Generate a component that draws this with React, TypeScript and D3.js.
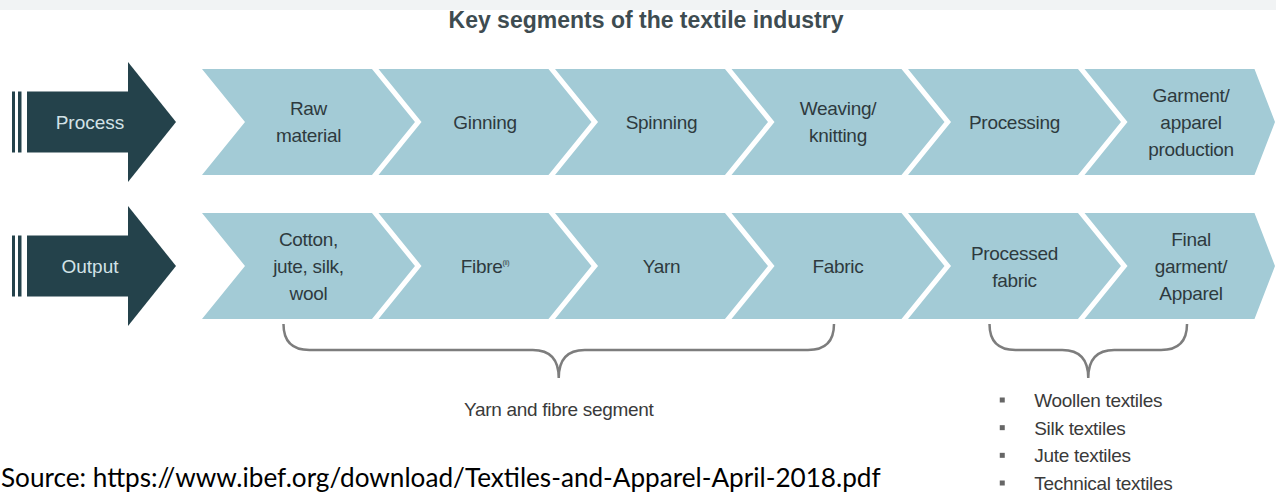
// Key segments of the textile industry - chevron flow diagram drawn with D3
import React, { useEffect, useRef } from 'react';
import * as d3 from 'd3';

const WIDTH = 1276;
const HEIGHT = 495;

const title = 'Key segments of the textile industry';
const rows = ['Process', 'Output'];
const processSteps = [
  ['Raw', 'material'],
  ['Ginning'],
  ['Spinning'],
  ['Weaving/', 'knitting'],
  ['Processing'],
  ['Garment/', 'apparel', 'production'],
];
const outputSteps = [
  ['Cotton,', 'jute, silk,', 'wool'],
  ['Fibre'],
  ['Yarn'],
  ['Fabric'],
  ['Processed', 'fabric'],
  ['Final', 'garment/', 'Apparel'],
];
const fibreNote = '(ii)';
const segmentFrom = [0, 4];
const segmentTo = [3, 5];
const segmentLabels = ['Yarn and fibre segment', ''];
const otherTextiles = ['Woollen textiles', 'Silk textiles', 'Jute textiles', 'Technical textiles'];
const source = 'Source: https://www.ibef.org/download/Textiles-and-Apparel-April-2018.pdf';

const FONT = '"Liberation Sans", Arial, sans-serif';

const App = () => {
  const svgRef = useRef<SVGSVGElement>(null);

  useEffect(() => {
    if (!svgRef.current) return;
    const svg = d3.select(svgRef.current);
    svg.selectAll('*').remove();

    const dark = '#24424b';
    const light = '#a3cbd6';
    const textDark = '#2e3a3e';

    // faint band at the very top
    svg.append('rect').attr('x', 0).attr('y', 0).attr('width', WIDTH).attr('height', 10).attr('fill', '#f1f3f4');

    svg.append('text')
      .attr('x', 646)
      .attr('y', 28)
      .attr('text-anchor', 'middle')
      .attr('font-family', FONT)
      .attr('font-weight', 'bold')
      .attr('font-size', 23)
      .attr('fill', '#3e4c51')
      .text(title);

    const cols = d3.range(processSteps.length);
    const x = d3.scaleBand<number>().domain(cols).range([202, 1254.5]).paddingInner(0.037);
    const y = d3.scaleBand<string>().domain(rows).range([69, 319]).paddingInner(0.264);
    const depth = 43;
    const bw = x.bandwidth();
    const colCenter = (i: number) => (x(i) || 0) + depth / 2 + bw / 2;
    const rowMid = (r: string) => (y(r) || 0) + y.bandwidth() / 2;

    const labelsByRow: Record<string, string[][]> = { Process: processSteps, Output: outputSteps };

    rows.forEach(row => {
      const m = rowMid(row);
      const g = svg.append('g');

      // left dark arrow with stripes
      g.append('rect').attr('x', 12).attr('y', m - 30.5).attr('width', 3).attr('height', 61).attr('fill', dark);
      g.append('rect').attr('x', 18).attr('y', m - 30.5).attr('width', 3.5).attr('height', 61).attr('fill', dark);
      g.append('rect').attr('x', 27).attr('y', m - 30.5).attr('width', 102).attr('height', 61).attr('fill', dark);
      g.append('path').attr('d', `M128,${m - 60}L176,${m}L128,${m + 60}Z`).attr('fill', dark);
      g.append('text')
        .attr('x', 90)
        .attr('y', m + 7)
        .attr('text-anchor', 'middle')
        .attr('font-family', FONT)
        .attr('font-size', 19)
        .attr('fill', '#d3e2e7')
        .text(row);

      // chevrons
      const t = y(row) || 0;
      const b = t + y.bandwidth();
      g.selectAll('path.chev')
        .data(cols)
        .enter()
        .append('path')
        .attr('class', 'chev')
        .attr('fill', light)
        .attr('d', i => {
          const l = x(i) || 0;
          const r = l + bw;
          const tip = Math.min(r + depth, WIDTH - 1);
          return `M${l},${t}L${r},${t}L${tip},${m}L${r},${b}L${l},${b}L${l + depth},${m}Z`;
        });

      const labels = labelsByRow[row];
      cols.forEach(i => {
        const lines = labels[i];
        const lh = 27;
        const txt = g.append('text')
          .attr('text-anchor', 'middle')
          .attr('font-family', FONT)
          .attr('font-size', 19)
          .attr('letter-spacing', -0.3)
          .attr('fill', textDark);
        lines.forEach((line, k) => {
          txt.append('tspan')
            .attr('x', colCenter(i))
            .attr('y', m + (k - (lines.length - 1) / 2) * lh + 7)
            .text(line);
          if (row === 'Output' && line === 'Fibre') {
            txt.append('tspan').attr('dy', -8).attr('font-size', 7).text(fibreNote);
          }
        });
      });
    });

    // braces under the output row
    const yTop = 324;
    const yMid = 350;
    const yTip = 378;
    const r = 26;
    segmentFrom.forEach((from, s) => {
      const x0 = colCenter(from) - 25;
      const x1 = colCenter(segmentTo[s]) - 4;
      const c = (x0 + x1) / 2;
      const p = d3.path();
      p.moveTo(x0, yTop);
      p.quadraticCurveTo(x0, yMid, x0 + r, yMid);
      p.lineTo(c - r, yMid);
      p.quadraticCurveTo(c, yMid, c, yTip);
      p.quadraticCurveTo(c, yMid, c + r, yMid);
      p.lineTo(x1 - r, yMid);
      p.quadraticCurveTo(x1, yMid, x1, yTop);
      svg.append('path')
        .attr('d', p.toString())
        .attr('fill', 'none')
        .attr('stroke', '#7d7d7d')
        .attr('stroke-width', 2.5);

      if (segmentLabels[s]) {
        svg.append('text')
          .attr('x', c)
          .attr('y', 416)
          .attr('text-anchor', 'middle')
          .attr('font-family', FONT)
          .attr('font-size', 19)
          .attr('letter-spacing', -0.3)
          .attr('fill', '#3a3a3a')
          .text(segmentLabels[s]);
      } else {
        const bx = c - 86;
        const ly = d3.scalePoint<string>().domain(otherTextiles).range([400, 483]);
        const list = svg.append('g');
        list.selectAll('rect')
          .data(otherTextiles)
          .enter()
          .append('rect')
          .attr('x', bx - 2.5)
          .attr('y', d => (ly(d) || 0) - 2.5)
          .attr('width', 5)
          .attr('height', 5)
          .attr('fill', '#666');
        list.selectAll('text')
          .data(otherTextiles)
          .enter()
          .append('text')
          .attr('x', bx + 32)
          .attr('y', d => (ly(d) || 0) + 7)
          .attr('font-family', FONT)
          .attr('font-size', 19)
          .attr('letter-spacing', -0.3)
          .attr('fill', '#3a3a3a')
          .text(d => d);
      }
    });

    // source line, fitted to its width in the reference
    const src = svg.append('text')
      .attr('x', 1)
      .attr('y', 487)
      .attr('font-family', 'Lato, "Open Sans", sans-serif')
      .attr('font-size', 26)
      .attr('fill', '#000')
      .text(source);
    const len = (src.node() as SVGTextElement).getComputedTextLength();
    if (len > 0) src.attr('font-size', 26 * 880 / len);
  }, []);

  return (
    <svg
      ref={svgRef}
      width={WIDTH}
      height={HEIGHT}
      style={{ position: 'absolute', left: 0, top: 0, background: '#fff' }}
    />
  );
};

export default App;
